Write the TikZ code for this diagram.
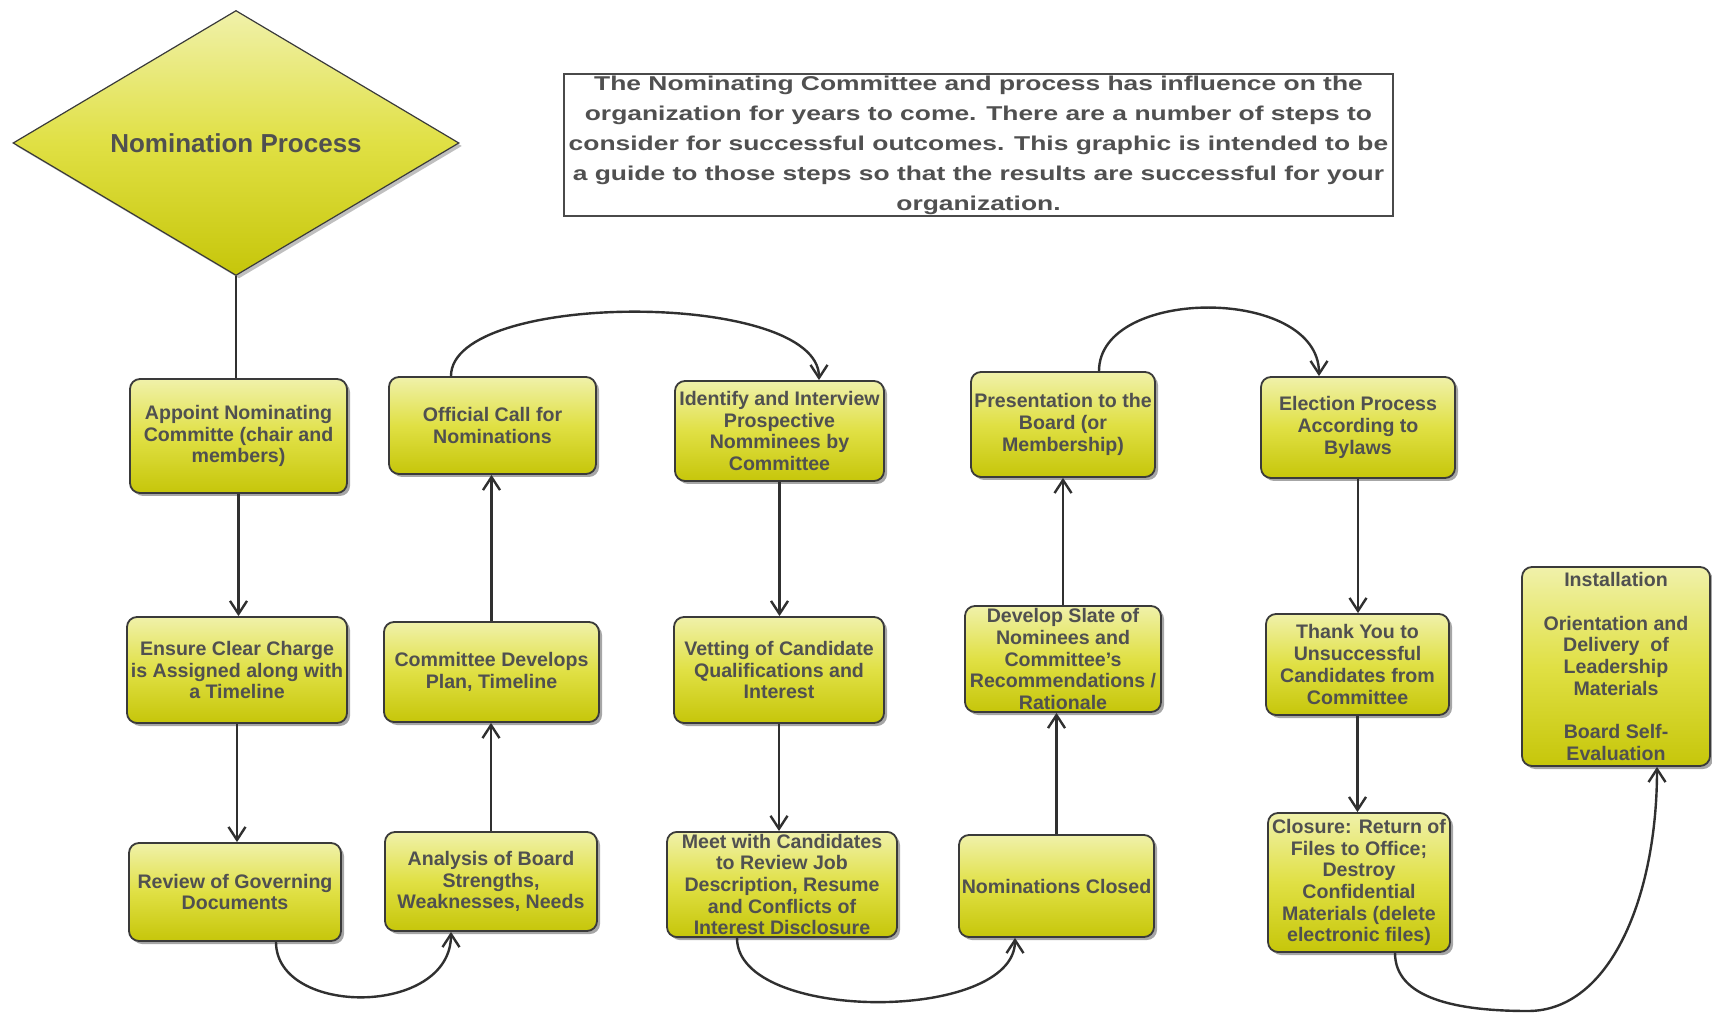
\documentclass[tikz,border=0pt]{standalone}
\usepackage{fontspec}
\setmainfont{Liberation Sans}
\newfontfamily\notefont{Liberation Sans}[FakeStretch=1.32]
\usetikzlibrary{shapes.geometric,arrows.meta,shadows,calc}
\definecolor{txt}{HTML}{505050}
\definecolor{edge}{HTML}{3A3A3A}
\definecolor{ytop}{RGB}{240,241,170}
\definecolor{ymid}{RGB}{224,224,68}
\definecolor{ybot}{RGB}{198,198,10}
\definecolor{conn}{HTML}{303030}
\definecolor{notegray}{HTML}{4A4A4A}
\begin{document}
\begin{tikzpicture}[x=0.5pt,y=-0.5pt,
  stepbox/.style={rectangle, rounded corners=5pt, draw=edge, line width=0.9pt,
    top color=ytop, bottom color=ybot, middle color=ymid,
    drop shadow={shadow xshift=1.5pt,shadow yshift=-1.5pt,opacity=0.35,fill=black},
    inner sep=1pt, align=center, text=txt,
    font=\fontsize{9.8}{10.85}\selectfont\bfseries},
  link/.style={draw=conn, line width=1.2pt, -{Straight Barb[length=6.5pt,width=8.5pt]}},
  plainlink/.style={draw=conn, line width=1.2pt},
]
\useasboundingbox (0,0) rectangle (1712,1015);
\fill[white] (0,0) rectangle (1712,1015);

% start diamond
\node[diamond, shape aspect=1.68, minimum width=223pt, minimum height=132.5pt,
  inner sep=0pt, draw=edge, line width=0.6pt, top color=ytop, bottom color=ybot, middle color=ymid,
  drop shadow={shadow xshift=1.5pt,shadow yshift=-1.5pt,opacity=0.25,fill=black},
  text=txt, font=\fontsize{13}{15}\selectfont\bfseries] (start) at (236,143) {Nomination Process};

% note
\node[draw=notegray, line width=1pt, fill=white, minimum width=414.5pt, minimum height=71pt,
  inner sep=0pt, align=center, text=txt,
  font=\notefont\fontsize{10}{15}\selectfont\bfseries] (note) at (978.5,145)
  {The Nominating Committee and process has influence on the\\
   organization for years to come. There are a number of steps to\\
   consider for successful outcomes. This graphic is intended to be\\
   a guide to those steps so that the results are successful for your\\
   organization.};

% row 1
\node[stepbox, minimum width=108.5pt, minimum height=57pt] (appoint) at (238.5,436)
  {Appoint Nominating\\Committe (chair and\\members)};
\node[stepbox, minimum width=103.5pt, minimum height=48.5pt] (official) at (492.5,425.5)
  {Official Call for\\Nominations};
\node[stepbox, minimum width=104.5pt, minimum height=50pt] (identify) at (779.5,431)
  {Identify and Interview\\Prospective\\Nomminees by\\Committee};
\node[stepbox, minimum width=92pt, minimum height=52.5pt] (pres) at (1063,424.5)
  {Presentation to the\\Board (or\\Membership)};
\node[stepbox, minimum width=97pt, minimum height=50.5pt] (election) at (1358,427.5)
  {Election Process\\According to\\Bylaws};

% row 2
\node[stepbox, minimum width=110pt, minimum height=53pt] (ensure) at (237,670)
  {Ensure Clear Charge\\is Assigned along with\\a Timeline};
\node[stepbox, minimum width=107.5pt, minimum height=50pt] (comdev) at (491.5,672)
  {Committee Develops\\Plan, Timeline};
\node[stepbox, minimum width=105pt, minimum height=53pt] (vetting) at (779,670)
  {Vetting of Candidate\\Qualifications and\\Interest};
\node[stepbox, minimum width=98pt, minimum height=53pt] (slate) at (1063,659)
  {Develop Slate of\\Nominees and\\Committee's\\Recommendations /\\Rationale};
\node[stepbox, minimum width=91.5pt, minimum height=50.5pt] (thank) at (1357.5,664.5)
  {Thank You to\\Unsuccessful\\Candidates from\\Committee};
\node[stepbox, minimum width=94pt, minimum height=99.5pt] (install) at (1616,666.5)
  {Installation\\[10.85pt]Orientation and\\Delivery\ \ of\\Leadership\\Materials\\[10.85pt]Board Self-\\Evaluation};

% row 3
\node[stepbox, minimum width=106pt, minimum height=49pt] (review) at (235,892)
  {Review of Governing\\Documents};
\node[stepbox, minimum width=106pt, minimum height=49.5pt] (analysis) at (491,881.5)
  {Analysis of Board\\Strengths,\\Weaknesses, Needs};
\node[stepbox, minimum width=115pt, minimum height=52.5pt] (meet) at (782,884.5)
  {Meet with Candidates\\to Review Job\\Description, Resume\\and Conflicts of\\Interest Disclosure};
\node[stepbox, minimum width=97.5pt, minimum height=51pt] (nclosed) at (1056.5,886)
  {Nominations Closed};
\node[stepbox, minimum width=91pt, minimum height=69.5pt] (closure) at (1359,882.5)
  {Closure: Return of\\Files to Office;\\Destroy\\Confidential\\Materials (delete\\electronic files)};

% connectors
\draw[plainlink] (start.south) -- (start.south |- appoint.north);
\draw[link] (appoint.south) -- (appoint.south |- ensure.north);
\draw[link] (ensure.south) -- (ensure.south |- review.north);
\draw[link] ($(review.south)+(41,0)$) .. controls ($(review.south)+(41,75)$) and ($(analysis.south)+(-40,85)$) .. ($(analysis.south)+(-40,0)$);
\draw[link] (analysis.north) -- (analysis.north |- comdev.south);
\draw[link] (comdev.north) -- (comdev.north |- official.south);
\draw[link] ($(official.north)+(-41.5,0)$) .. controls ($(official.north)+(-41.5,-86)$) and ($(identify.north)+(39.5,-90)$) .. ($(identify.north)+(39.5,0)$);
\draw[link] (identify.south) -- (identify.south |- vetting.north);
\draw[link] (vetting.south) -- (vetting.south |- meet.north);
\draw[link] ($(meet.south)+(-45,0)$) .. controls ($(meet.south)+(-45,85)$) and ($(nclosed.south)+(-41.5,85)$) .. ($(nclosed.south)+(-41.5,0)$);
\draw[link] (nclosed.north) -- (nclosed.north |- slate.south);
\draw[link] (slate.north) -- (slate.north |- pres.south);
\draw[link] ($(pres.north)+(36,0)$) .. controls ($(pres.north)+(36,-85)$) and ($(election.north)+(-39,-90)$) .. ($(election.north)+(-39,0)$);
\draw[link] (election.south) -- (election.south |- thank.north);
\draw[link] (thank.south) -- (thank.south |- closure.north);
\coordinate (low) at (1528,1011);
\draw[link] ($(closure.south)+(36,0)$) .. controls ($(closure.south)+(36,45)$) and (1455,1011) .. (low)
  .. controls (1610,1011) and ($(install.south)+(41,130)$) .. ($(install.south)+(41,0)$);
\end{tikzpicture}
\end{document}
